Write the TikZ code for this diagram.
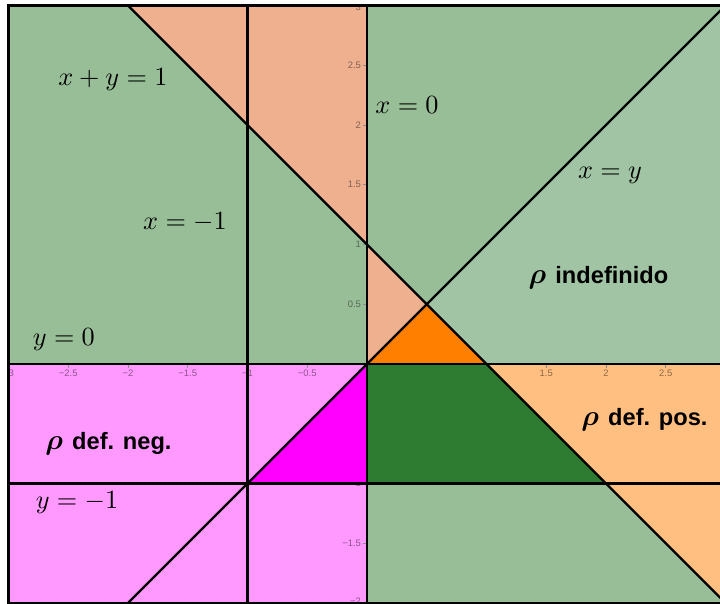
\documentclass[tikz,border=0pt]{standalone}
\usepackage{fontspec}
\usepackage{amsmath,amssymb}
\usepackage{xcolor}
\usepackage{tikz}
\newfontfamily\labelfont{Liberation Sans}
\definecolor{baseGreen}{RGB}{152,190,152}
\definecolor{indefGreen}{RGB}{161,197,164}
\definecolor{salmonFill}{RGB}{239,176,143}
\definecolor{deepOrange}{RGB}{255,128,0}
\definecolor{darkGreen}{RGB}{46,123,50}
\definecolor{pureMagenta}{RGB}{255,0,255}
\definecolor{lightMagenta}{RGB}{255,153,255}
\definecolor{lightOrange}{RGB}{255,191,128}
\newcommand{\rhosym}{{\fontsize{10.5}{12}\selectfont\boldmath$\rho$}\hspace{3.5pt}}

\begin{document}
\begin{tikzpicture}[x=1.6cm, y=1.6cm,
  every node/.style={font=\normalsize},
  bline/.style={draw=black, line width=0.9pt},
  eqlabel/.style={font=\normalsize},
  rholabel/.style={font=\labelfont\fontsize{9}{11}\selectfont\bfseries},
  ticklabel/.style={font=\labelfont\fontsize{3.6}{4.2}\selectfont, text=black, text opacity=0.45, inner sep=0.5pt},
  tickmark/.style={draw=black!45, line width=0.3pt}]
  \useasboundingbox (-3.071,-2.008) rectangle (2.954,3.046);
  \begin{scope}
    \clip (-3,-2) rectangle (2.954,3);
    \fill[baseGreen] (-3,-2) rectangle (3,3);
    \fill[lightMagenta] (-3,-2) rectangle (0,0);
    \fill[lightOrange] (1,0) -- (3,0) -- (3,-2) -- cycle;
    \fill[indefGreen] (0.5,0.5) -- (1,0) -- (3,0) -- (3,3) -- cycle;
    \fill[salmonFill] (-2,3) -- (0,3) -- (0,1) -- cycle;
    \fill[salmonFill] (0,1) -- (0.5,0.5) -- (0,0) -- cycle;

    \foreach \t in {-3,-2.5,...,3} {
      \draw[tickmark] (\t,0) -- (\t,-0.03);
      \draw[tickmark] (-0.03,\t) -- (0,\t);
    }
    \node[ticklabel] (xm30) at (-3,-0.075) {−3};
    \node[ticklabel] (xm25) at (-2.5,-0.075) {−2.5};
    \node[ticklabel] (xm20) at (-2,-0.075) {−2};
    \node[ticklabel] (xm15) at (-1.5,-0.075) {−1.5};
    \node[ticklabel] (xm10) at (-1,-0.075) {−1};
    \node[ticklabel] (xm05) at (-0.5,-0.075) {−0.5};
    \node[ticklabel, anchor=east] (xzero) at (-0.02,-0.075) {0};
    \node[ticklabel] (xp15) at (1.5,-0.075) {1.5};
    \node[ticklabel] (xp20) at (2,-0.075) {2};
    \node[ticklabel] (xp25) at (2.5,-0.075) {2.5};
    \node[ticklabel, anchor=east] (yp30) at (-0.035,2.985) {3};
    \node[ticklabel, anchor=east] (yp25) at (-0.035,2.5) {2.5};
    \node[ticklabel, anchor=east] (yp20) at (-0.035,2) {2};
    \node[ticklabel, anchor=east] (yp15) at (-0.035,1.5) {1.5};
    \node[ticklabel, anchor=east] (yp10) at (-0.035,1) {1};
    \node[ticklabel, anchor=east] (yp05) at (-0.035,0.5) {0.5};
    \node[ticklabel, anchor=east] (ym10) at (-0.035,-1) {−1};
    \node[ticklabel, anchor=east] (ym15) at (-0.035,-1.5) {−1.5};
    \node[ticklabel, anchor=east] (ym20) at (-0.035,-1.985) {−2};

    \fill[pureMagenta] (0,0) -- (-1,-1) -- (0,-1) -- cycle;
    \fill[darkGreen] (0,0) -- (1,0) -- (2,-1) -- (0,-1) -- cycle;
    \fill[deepOrange] (0,0) -- (0.5,0.5) -- (1,0) -- cycle;

    \draw[bline] (-2,3) -- (3,-2);
    \draw[bline] (-2,-2) -- (3,3);
    \draw[bline] (0,-2) -- (0,3);
    \draw[bline] (-1,-2) -- (-1,3);
    \draw[bline] (-3,0) -- (3,0);
    \draw[bline] (-3,-1) -- (3,-1);
  \end{scope}
  \draw[bline] (2.954,3) -- (-3,3) -- (-3,-2) -- (2.954,-2);

  \node[eqlabel] (sumline) at (-2.126,2.377) {$x+y=1$};
  \node[eqlabel] (xzeroline) at (0.335,2.167) {$x=0$};
  \node[eqlabel] (diagline) at (2.033,1.577) {$x=y$};
  \node[eqlabel] (xmoneline) at (-1.523,1.19) {$x=-1$};
  \node[eqlabel] (yzeroline) at (-2.536,0.201) {$y=0$};
  \node[eqlabel] (ymoneline) at (-2.427,-1.16) {$y=-1$};

  \node[rholabel] (indef) at (1.937,0.72) {\rhosym indefinido};
  \node[rholabel] (defneg) at (-2.163,-0.669) {\rhosym def. neg.};
  \node[rholabel] (defpos) at (2.322,-0.469) {\rhosym def. pos.};
\end{tikzpicture}
\end{document}
